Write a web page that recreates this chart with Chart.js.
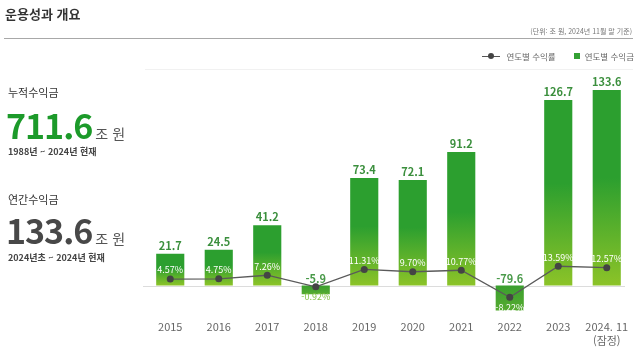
<!DOCTYPE html>
<html lang="ko">
<head>
<meta charset="utf-8">
<script src="https://cdn.jsdelivr.net/npm/chart.js@4.4.1/dist/chart.umd.min.js"></script>
<style>
  html, body { margin: 0; padding: 0; background: #fff; }
  body { width: 640px; height: 360px; position: relative; overflow: hidden;
         font-family: "Noto Sans CJK KR", "Noto Sans", sans-serif; color: #333; }
  #chart-wrap { position: absolute; left: 0; top: 0; width: 640px; height: 360px; }
  .title { position: absolute; left: 5px; top: 4px; font-size: 13px; font-weight: 700; color: #333; }
  .rule  { position: absolute; left: 4px; top: 38px; width: 629px; height: 1px; background: #a8a8a8; }
  .rule2 { position: absolute; left: 145px; top: 69px; width: 488px; height: 1px; background: #f1f1f1; }
  .unit  { position: absolute; right: 8px; top: 26px; font-size: 7px; color: #777; }
  .legend { position: absolute; right: 6px; top: 50px; font-size: 8.5px; color: #666; display: flex; align-items: center; }
  .lg-line { position: relative; width: 18px; height: 1px; background: #555; margin-right: 6px; }
  .lg-line::after { content: ""; position: absolute; left: 6px; top: -3px; width: 6px; height: 6px; border-radius: 50%; background: #444; }
  .lg-box { width: 6px; height: 6px; background: #34a034; margin: 0 5px 0 18px; }
  .kpi-label { position: absolute; left: 8px; font-size: 11px; color: #333; }
  .kpi-num { position: absolute; left: 6px; font-size: 34px; font-weight: 700; letter-spacing: -1px; line-height: 1; }
  .kpi-num small { font-size: 14px; font-weight: 400; letter-spacing: 0; margin-left: 3px; color: #555; }
  .kpi-sub { position: absolute; left: 8px; font-size: 9px; font-weight: 700; color: #444; }
</style>
</head>
<body>
<div id="chart-wrap"><canvas id="perf-chart" width="640" height="360"></canvas></div>

<div class="title">운용성과 개요</div>
<div class="unit">(단위: 조 원, 2024년 11월 말 기준)</div>
<div class="rule"></div>
<div class="rule2"></div>
<div class="legend">
  <span class="lg-line"></span><span>연도별 수익률</span>
  <span class="lg-box"></span><span>연도별 수익금</span>
</div>

<div class="kpi-label" style="top:84px">누적수익금</div>
<div class="kpi-num" style="top:108px;color:#1c9a2a">711.6<small>조 원</small></div>
<div class="kpi-sub" style="top:145px">1988년 ~ 2024년 현재</div>

<div class="kpi-label" style="top:191px">연간수익금</div>
<div class="kpi-num" style="top:213px;color:#484848">133.6<small>조 원</small></div>
<div class="kpi-sub" style="top:251px">2024년초 ~ 2024년 현재</div>

<script>
// 연도 (x축)
const years = ['2015', '2016', '2017', '2018', '2019', '2020', '2021', '2022', '2023', ['2024. 11', '(잠정)']];
// 연도별 수익금 (조 원)
const profits = [21.7, 24.5, 41.2, -5.9, 73.4, 72.1, 91.2, -79.6, 126.7, 133.6];
// 연도별 수익률 (%)
const returns = [4.57, 4.75, 7.26, -0.92, 11.31, 9.70, 10.77, -8.22, 13.59, 12.57];

const FONT = '"Noto Sans CJK KR", "Noto Sans", sans-serif';
const GREEN_TOP  = '#2c9f2f';
const GREEN_LOW  = '#8cc328';
const LABEL_GRN  = '#3b8f3d';

function barFill(ctx) {
  const chart = ctx.chart;
  const area  = chart.chartArea;
  if (!area || ctx.type !== 'data') return GREEN_TOP;
  const y    = chart.scales.y;
  const zero = y.getPixelForValue(0);
  let end    = y.getPixelForValue(ctx.raw);
  end = Math.max(area.top, Math.min(area.bottom, end));
  if (Math.abs(end - zero) < 1) return GREEN_TOP;
  const g = chart.ctx.createLinearGradient(0, end, 0, zero);
  if (ctx.raw >= 0) {
    g.addColorStop(0, GREEN_TOP);
    g.addColorStop(0.45, GREEN_TOP);
    g.addColorStop(1, GREEN_LOW);
  } else {
    g.addColorStop(0, '#56ab31');
    g.addColorStop(1, '#3a9f2e');
  }
  return g;
}

// zero line + value labels
const labelsPlugin = {
  id: 'perfLabels',
  beforeDatasetsDraw(chart) {
    const { ctx, chartArea, scales } = chart;
    const z = scales.y.getPixelForValue(0);
    ctx.save();
    ctx.strokeStyle = '#dcdcdc';
    ctx.lineWidth = 1;
    ctx.beginPath();
    ctx.moveTo(chartArea.left - 3, Math.round(z) + 0.5);
    ctx.lineTo(chartArea.right - 6, Math.round(z) + 0.5);
    ctx.stroke();
    ctx.restore();
  },
  afterDatasetsDraw(chart) {
    const { ctx, scales } = chart;
    const z = scales.y.getPixelForValue(0);
    const bars = chart.getDatasetMeta(0).data;
    const pts  = chart.getDatasetMeta(1).data;
    ctx.save();
    ctx.textAlign = 'center';
    ctx.textBaseline = 'middle';

    ctx.font = `700 11px ${FONT}`;
    bars.forEach((b, i) => {
      const v = profits[i];
      const ty = v >= 0 ? b.y - 8 : z - 7;
      ctx.fillStyle = v >= 0 ? LABEL_GRN : '#4a9a4a';
      ctx.fillText(v.toFixed(1), b.x, ty);
    });

    ctx.font = `400 9px ${FONT}`;
    pts.forEach((p, i) => {
      const v = returns[i];
      const ty = v >= 0 ? p.y - 9 : p.y + 10;
      const b = bars[i];
      const top = Math.min(b.y, b.base), bot = Math.max(b.y, b.base);
      const inside = ty > top && ty < Math.min(bot, chart.chartArea.bottom);
      ctx.fillStyle = inside ? '#ffffff' : '#86c24a';
      ctx.fillText(v.toFixed(2) + '%', p.x, ty);
    });
    ctx.restore();
  }
};

new Chart(document.getElementById('perf-chart'), {
  data: {
    labels: years,
    datasets: [
      {
        type: 'bar',
        label: '연도별 수익금',
        data: profits,
        yAxisID: 'y',
        backgroundColor: barFill,
        barPercentage: 0.58,
        categoryPercentage: 1,
        order: 1,
      },
      {
        type: 'line',
        label: '연도별 수익률',
        data: returns,
        yAxisID: 'y1',
        borderColor: '#5a5a5a',
        borderWidth: 1.3,
        pointRadius: 3.5,
        pointBackgroundColor: '#444',
        pointBorderWidth: 0,
        tension: 0,
        order: 0,
      },
    ],
  },
  options: {
    responsive: false,
    animation: false,
    layout: { padding: { left: 146, right: 9, top: 75, bottom: 3 } },
    plugins: { legend: { display: false }, tooltip: { enabled: false } },
    scales: {
      x: {
        grid: { display: false, drawTicks: false },
        border: { display: false },
        ticks: { color: '#666', padding: 10, font: { family: FONT, size: 11 }, maxRotation: 0 },
      },
      y:  { display: false, min: -17.1, max: 143.8 },
      y1: { display: false, min: -17.6, max: 148, position: 'right' },
    },
  },
  plugins: [labelsPlugin],
});
</script>
</body>
</html>
